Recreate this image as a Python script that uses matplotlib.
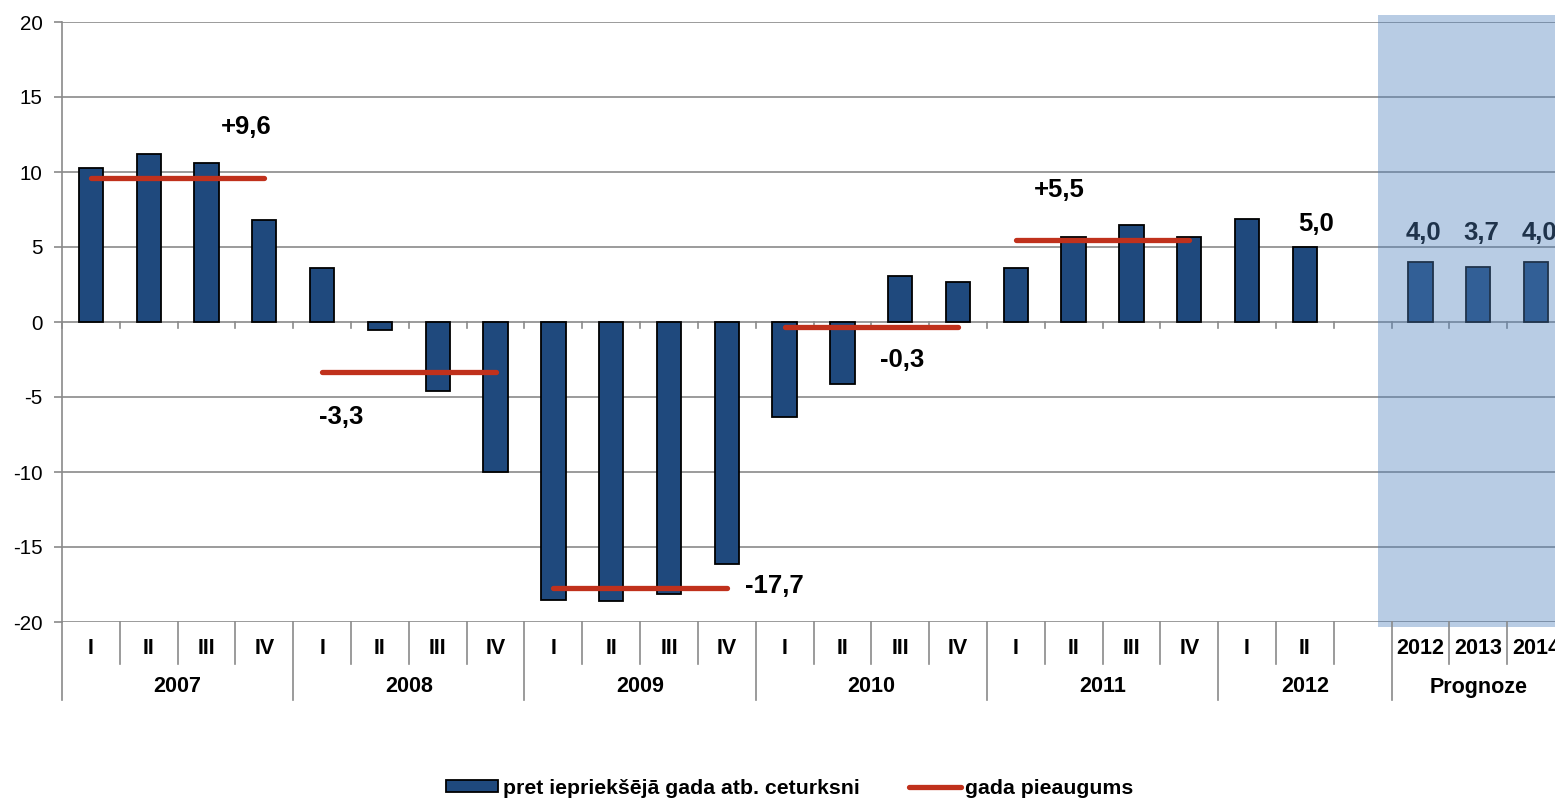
import matplotlib
matplotlib.use("Agg")
import matplotlib.pyplot as plt
from matplotlib.patches import Rectangle
from matplotlib.lines import Line2D
import matplotlib.transforms as mtransforms

plt.rcParams['font.family'] = ['Liberation Sans', 'DejaVu Sans']
plt.rcParams['axes.unicode_minus'] = False

# ---- data ----
years = ["2007", "2008", "2009", "2010", "2011", "2012"]
quarters = ["I", "II", "III", "IV"]
quarter_values = [10.3, 11.2, 10.6, 6.8,
                  3.6, -0.5, -4.6, -10.0,
                  -18.5, -18.6, -18.1, -16.1,
                  -6.3, -4.1, 3.1, 2.7,
                  3.6, 5.7, 6.5, 5.7,
                  6.9, 5.0]
forecast_years = ["2012", "2013", "2014"]
forecast_values = [4.0, 3.7, 4.0]
forecast_labels = ["4,0", "3,7", "4,0"]
annual_growth = [9.6, -3.3, -17.7, -0.3, 5.5]
annual_labels = ["+9,6", "-3,3", "-17,7", "-0,3", "+5,5"]
# label anchor positions (category units, value units)
annual_label_pos = [(2.68, 13.0), (4.33, -6.35), (11.82, -17.6), (14.03, -2.55), (16.75, 8.8)]
last_label = "5,0"
legend_labels = ["pret iepriekšējā gada atb. ceturksni", "gada pieaugums"]
group_label_forecast = "Prognoze"

W, H = 1555, 800
fig = plt.figure(figsize=(W / 100, H / 100), dpi=100)
x0_px, x1_px = 62, 1565
top_px, bot_px = 22, 622
ax = fig.add_axes([x0_px / W, 1 - bot_px / H, (x1_px - x0_px) / W, (bot_px - top_px) / H])

bar_color = "#1f497d"
red = "#c0311c"
grid_color = "#8a8a8a"
lab_fs = 18.5
cat_fs = 15.5

n_q = len(quarter_values)
q_x = list(range(n_q))
f_x = [n_q + 1 + i for i in range(len(forecast_values))]
n_slots = n_q + 1 + len(forecast_values)

ax.set_xlim(-0.5, n_slots - 0.5)
ax.set_ylim(-20, 20)

ax.bar(q_x, quarter_values, width=0.42, color=bar_color, edgecolor="black", linewidth=1.3, zorder=3)
ax.bar(f_x, forecast_values, width=0.42, color=bar_color, edgecolor="black", linewidth=1.3, zorder=3)

for i, g in enumerate(annual_growth):
    ax.plot([4 * i, 4 * i + 3], [g, g], color=red, linewidth=3.8, solid_capstyle="round", zorder=4)
for (lx, ly), t in zip(annual_label_pos, annual_labels):
    ax.text(lx, ly, t, ha="center", va="center", fontsize=lab_fs, fontweight="bold", zorder=5)

ax.text(q_x[-1] + 0.19, 6.53, last_label, ha="center", va="center", fontsize=lab_fs, fontweight="bold", zorder=5)
for x, t in zip(f_x, forecast_labels):
    ax.text(x + 0.05, 5.93, t, ha="center", va="center", fontsize=lab_fs, fontweight="bold", zorder=5, clip_on=False)

# grid & axes
ax.set_yticks(range(-20, 21, 5))
ax.set_xticks([])
for v in range(-20, 21, 5):
    ax.axhline(v, color=grid_color, linewidth=1.2, zorder=1)
for s in ["top", "right", "bottom"]:
    ax.spines[s].set_visible(False)
ax.spines["left"].set_color(grid_color)
ax.spines["left"].set_linewidth(1.2)
ax.tick_params(axis="y", length=6, width=1.2, color=grid_color, labelsize=14.8, pad=8)

# tick marks on zero line
for k in range(n_slots + 1):
    ax.plot([k - 0.5, k - 0.5], [0, -0.38], color=grid_color, linewidth=1.2, zorder=2, clip_on=False)

# category axis below
bt = mtransforms.blended_transform_factory(ax.transData, fig.transFigure)
def fy(px):
    return 1 - px / H

for k in range(n_slots):
    xb = k - 0.5
    if (k % 4 == 0 and k <= n_q) or k == n_q + 1:
        y_end = 700
    else:
        y_end = 664
    fig.add_artist(Line2D([xb, xb], [fy(622), fy(y_end)], transform=bt, color=grid_color, linewidth=1.2))

for i in range(n_q):
    fig.text(i, fy(648), quarters[i % 4], transform=bt, ha="center", va="center", fontsize=cat_fs, fontweight="bold")
for j, y in enumerate(years):
    start = 4 * j - 0.5
    end = min(4 * j + 3.5, n_q + 0.5)
    fig.text((start + end) / 2, fy(687), y, transform=bt, ha="center", va="center", fontsize=cat_fs, fontweight="bold")
for x, t in zip(f_x, forecast_years):
    fig.text(x, fy(648), t, transform=bt, ha="center", va="center", fontsize=cat_fs, fontweight="bold")
fig.text((n_q + 0.5 + n_slots - 0.5) / 2, fy(687), group_label_forecast, transform=bt, ha="center", va="center", fontsize=cat_fs, fontweight="bold")

# forecast shading overlay
ax.add_patch(Rectangle((22.27, -20.33), 4.0, 40.8, facecolor="#4f81bd", alpha=0.4, edgecolor="none", zorder=10, clip_on=False))

# legend
handles = [Rectangle((0, 0), 1, 1, facecolor=bar_color, edgecolor="black", linewidth=1.3),
           Line2D([0], [0], color=red, linewidth=3.8, solid_capstyle="round")]
leg = fig.legend(handles, legend_labels, loc="center", bbox_to_anchor=(0.5 * (445 + 1135) / W, fy(788)),
                 ncol=2, frameon=False, prop={"weight": "bold", "size": 15.3},
                 handlelength=2.45, handletextpad=0.22, columnspacing=2.3, handleheight=0.5,
                 borderpad=0, borderaxespad=0)

fig.savefig("out.png", dpi=100)
